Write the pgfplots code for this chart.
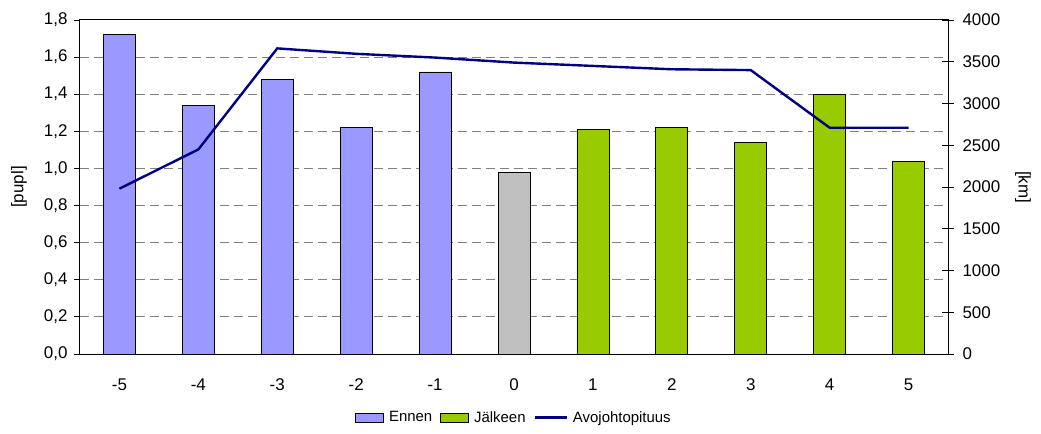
\documentclass[border=0pt]{standalone}
\usepackage{fontspec}
\setmainfont{Liberation Sans}
\usepackage{pgfplots}
\pgfplotsset{compat=1.18}
\usepackage{pgfplotstable}

\definecolor{ennen}{HTML}{9999FF}
\definecolor{jalkeen}{HTML}{99CC00}
\definecolor{nolla}{HTML}{C0C0C0}
\definecolor{linja}{HTML}{000080}
\definecolor{ruudukko}{HTML}{808080}

% pupl values before, at and after the change year
\pgfplotstableread{
x y
-5 1.72
-4 1.34
-3 1.48
-2 1.22
-1 1.52
}\ennentaulu
\pgfplotstableread{
x y
0 0.98
}\nollataulu
\pgfplotstableread{
x y
1 1.21
2 1.22
3 1.14
4 1.40
5 1.04
}\jalkeentaulu
% overhead line length, km
\pgfplotstableread{
x y
-5 1980
-4 2450
-3 3660
-2 3595
-1 3550
0 3490
1 3450
2 3410
3 3400
4 2710
5 2710
}\linjataulu

\pgfplotsset{
  palkki/.style={ybar, bar shift=0pt, bar width=32bp, draw=black, line width=0.8bp,
    legend image code/.code={\draw[##1] (0bp,-4.5bp) rectangle (28bp,4.5bp);}},
  viiva/.style={linja, line width=2.4bp,
    legend image code/.code={\draw[##1] (0bp,0bp) -- (32bp,0bp);}},
}

\begin{document}
\begin{tikzpicture}[font=\fontsize{17}{20}\selectfont]
\begin{axis}[
  name=main,
  scale only axis, width=868bp, height=334bp,
  xmin=-5.5, xmax=5.5, ymin=0, ymax=1.8,
  xtick={-5,-4,-3,-2,-1,0,1,2,3,4,5},
  x tick style={draw=none},
  x tick label style={yshift=-15bp},
  ytick={0.2,0.4,0.6,0.8,1.0,1.2,1.4,1.6},
  extra y ticks={0,1.8},
  extra y tick style={grid=none},
  ytick pos=left,
  y tick style={black, line width=0.8bp},
  tick align=outside,
  major tick length=6bp,
  y tick label style={xshift=-3bp, /pgf/number format/.cd, use comma, fixed, fixed zerofill, precision=1, assume math mode=true},
  x tick label style={/pgf/number format/assume math mode=true},
  ymajorgrids,
  major grid style={ruudukko, dash pattern=on 9bp off 5bp, line width=1.1bp},
  axis line style={black, line width=1bp},
  ylabel={[pupl]},
  ylabel style={at={(axis description cs:-0.0703,0.5)}, anchor=center},
  legend style={at={(0.5,-0.19)}, anchor=center, draw=none, fill=none,
    font=\fontsize{15}{18}\selectfont,
    /tikz/every odd column/.append style={column sep=3bp},
    /tikz/every even column/.append style={column sep=6bp}},
  legend columns=-1,
]
\addplot[palkki, fill=ennen] table {\ennentaulu};
\addlegendentry{Ennen}
\addplot[palkki, fill=jalkeen] table {\jalkeentaulu};
\addlegendentry{Jälkeen}
\addplot[palkki, fill=nolla, forget plot] table {\nollataulu};
\addlegendimage{viiva}
\addlegendentry{Avojohtopituus}
\end{axis}

\begin{axis}[
  scale only axis, width=868bp, height=334bp,
  xmin=-5.5, xmax=5.5, ymin=0, ymax=4000,
  axis x line=none,
  axis y line*=right,
  axis line style={black, line width=1bp, -},
  ytick={0,500,1000,1500,2000,2500,3000,3500,4000},
  y tick style={black, line width=0.8bp},
  tick align=center,
  major tick length=12bp,
  y tick label style={xshift=5bp, /pgf/number format/.cd, 1000 sep={}, assume math mode=true},
  ylabel={[km]},
  ylabel style={at={(axis description cs:1.0864,0.5)}, anchor=center, rotate=180},
]
\addplot[viiva, mark=none] table {\linjataulu};
\end{axis}

\pgfresetboundingbox
\path ([xshift=-80bp,yshift=-80bp]main.south west) rectangle ([xshift=93bp,yshift=20bp]main.north east);
\end{tikzpicture}
\end{document}
